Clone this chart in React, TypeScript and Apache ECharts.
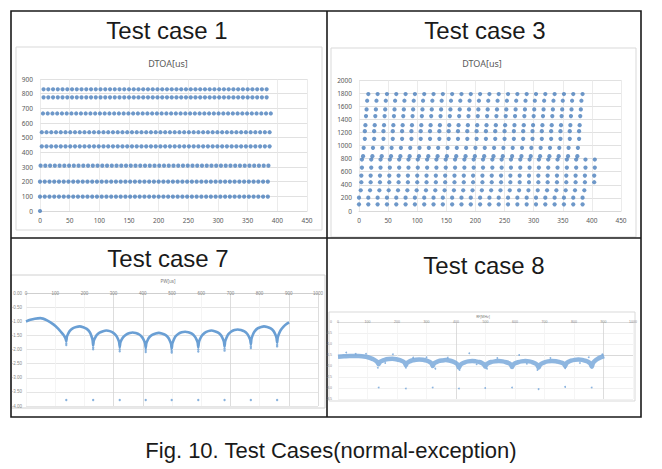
import React, { useEffect, useRef } from "react";
import * as echarts from "echarts";

// ---------- Test case 1 : DTOA levels [level, firstPulse, lastPulse], pulse step 8 ----------
const case1Step = 8;
const case1Rows = [
  [830, 6, 382],
  [775, 6, 382],
  [665, 5, 389],
  [537, 3, 387],
  [441, 3, 387],
  [309, 1, 385],
  [200, 0, 384],
  [98, 0, 384],
];
const case1Extra = [[0, 0]];

// ---------- Test case 3 : DTOA levels [level, firstPulse, lastPulse], pulse step 16 ----------
const case3Step = 16;
const case3Rows = [
  [1786, 16, 384],
  [1684, 14, 382],
  [1551, 13, 381],
  [1449, 12, 380],
  [1311, 11, 379],
  [1219, 10, 378],
  [1102, 10, 378],
  [964, 8, 376],
  [837, 7, 375],
  [786, 5, 405],
  [663, 5, 405],
  [541, 4, 404],
  [439, 4, 404],
  [316, 3, 387],
  [204, 0, 384],
  [102, 0, 384],
];

// ---------- Test case 7 ----------
const case7Curve = [
  [0, -1.01], [15, -0.95], [30, -0.91], [49, -0.89], [72, -0.97], [95, -1.12], [110, -1.26], [120, -1.38], [128, -1.48], [133, -1.56], [136, -1.63], [138, -1.71],
  [140, -1.55], [144, -1.45], [150, -1.34], [160, -1.25], [172, -1.2], [184, -1.18], [196, -1.21], [208, -1.27], [218, -1.38], [224, -1.52], [228, -1.66], [230, -1.86],
  [232, -1.7], [236, -1.6], [242, -1.49], [252, -1.4], [264, -1.35], [275, -1.33], [287, -1.35], [299, -1.41], [309, -1.51], [315, -1.63], [319, -1.74], [321, -1.92],
  [323, -1.76], [327, -1.66], [333, -1.56], [343, -1.47], [355, -1.42], [365, -1.4], [376, -1.42], [388, -1.47], [398, -1.57], [404, -1.68], [408, -1.79], [410, -1.95],
  [412, -1.79], [416, -1.68], [422, -1.57], [432, -1.48], [444, -1.43], [455, -1.41], [465, -1.43], [477, -1.48], [487, -1.58], [493, -1.7], [497, -1.81], [499, -1.98],
  [501, -1.8], [505, -1.68], [511, -1.55], [521, -1.45], [533, -1.39], [545, -1.37], [556, -1.39], [568, -1.44], [578, -1.54], [584, -1.65], [588, -1.76], [590, -1.93],
  [592, -1.75], [596, -1.63], [602, -1.51], [612, -1.41], [624, -1.35], [635, -1.33], [646, -1.35], [658, -1.4], [668, -1.5], [674, -1.62], [678, -1.73], [680, -1.9],
  [682, -1.72], [686, -1.6], [692, -1.47], [702, -1.37], [714, -1.31], [725, -1.29], [736, -1.31], [748, -1.36], [758, -1.45], [764, -1.56], [768, -1.66], [770, -1.82],
  [772, -1.63], [776, -1.5], [782, -1.37], [792, -1.26], [804, -1.21], [815, -1.18], [826, -1.2], [838, -1.25], [848, -1.35], [854, -1.47], [858, -1.59], [860, -1.76],
  [862, -1.58], [866, -1.45], [872, -1.32], [882, -1.19], [892, -1.1], [901, -1.04],
];
const case7Tails = [
  [138, -1.78], [138, -1.84], [230, -1.93], [230, -1.99], [321, -1.99], [321, -2.06],
  [410, -2.02], [410, -2.09], [499, -2.05], [499, -2.11], [590, -2.0], [590, -2.07],
  [680, -1.97], [680, -2.04], [770, -1.89], [770, -1.95], [860, -1.83], [860, -1.89],
];
const case7Low = [
  [138, -3.79], [230, -3.79], [321, -3.79], [410, -3.79], [499, -3.79],
  [590, -3.79], [680, -3.79], [770, -3.79], [860, -3.79],
];

// ---------- Test case 8 ----------
const case8Curve = [
  [0, -1.58], [20, -1.56], [40, -1.54], [70, -1.54], [95, -1.58], [110, -1.64], [122, -1.71], [132, -1.8], [138, -1.92],
  [142, -1.82], [148, -1.77], [158, -1.72], [171, -1.685], [184, -1.67], [197, -1.69], [210, -1.73], [220, -1.79], [226, -1.85], [230, -1.97],
  [234, -1.86], [240, -1.81], [250, -1.75], [263, -1.72], [275, -1.7], [288, -1.72], [301, -1.76], [311, -1.82], [317, -1.88], [321, -2.0],
  [325, -1.89], [331, -1.84], [341, -1.78], [353, -1.75], [365, -1.73], [377, -1.75], [390, -1.8], [400, -1.87], [406, -1.94], [410, -2.08],
  [414, -1.96], [420, -1.89], [430, -1.83], [442, -1.79], [455, -1.77], [467, -1.79], [479, -1.82], [489, -1.87], [495, -1.93], [499, -2.03],
  [503, -1.93], [509, -1.87], [519, -1.82], [532, -1.79], [545, -1.77], [558, -1.79], [570, -1.83], [580, -1.88], [586, -1.94], [590, -2.05],
  [594, -1.94], [600, -1.88], [610, -1.83], [622, -1.79], [635, -1.77], [648, -1.79], [660, -1.83], [670, -1.89], [676, -1.96], [680, -2.08],
  [684, -1.96], [690, -1.89], [700, -1.83], [712, -1.79], [725, -1.77], [738, -1.78], [750, -1.82], [760, -1.86], [766, -1.91], [770, -2.0],
  [774, -1.88], [780, -1.82], [790, -1.76], [802, -1.72], [815, -1.7], [828, -1.72], [840, -1.77], [850, -1.83], [856, -1.9], [860, -2.03],
  [864, -1.88], [870, -1.78], [880, -1.68], [890, -1.61], [902, -1.55],
];
const case8Outliers = [
  [28, -1.39], [186, -1.47], [445, -1.42], [614, -1.5], [896, -1.47], [135, -2.08], [230, -2.08],
  [412, -2.18], [676, -2.18], [330, -2.12], [505, -2.12], [770, -2.1], [60, -1.45], [300, -1.6],
  [95, -1.44], [255, -1.62], [372, -1.62], [540, -1.64], [720, -1.64], [850, -1.6], [160, -1.86],
  [470, -1.92], [640, -1.9], [820, -1.86],
];
const case8Low = [
  [138, -2.98], [230, -3.02], [321, -2.98], [410, -3.02], [499, -3.0],
  [590, -2.98], [680, -3.05], [770, -2.95], [860, -2.98],
];

const caption = "Fig. 10. Test Cases(normal-exception)";
const titles = ["Test case 1", "Test case 3", "Test case 7", "Test case 8"];

function rowsToPoints(rows: number[][], step: number) {
  const pts: number[][] = [];
  rows.forEach(([level, first, last]) => {
    for (let x = first; x <= last; x += step) pts.push([x, level]);
  });
  return pts;
}

const lblColor = "#595959";
const gridGray = "#d9d9d9";
const plain = (v: number) => String(v);

function txt(text: string, x: number, y: number, size: number, color = "#1a1a1a", family = "Liberation Sans") {
  return {
    type: "text",
    x,
    y,
    silent: true,
    style: {
      text,
      fill: color,
      fontSize: size,
      fontFamily: family,
      align: "center",
      verticalAlign: "middle",
      textAlign: "center",
      textVerticalAlign: "middle",
    },
  };
}

export default function App() {
  const ref = useRef<HTMLDivElement>(null);
  useEffect(() => {
    if (!ref.current) return;
    const chart = echarts.init(ref.current, null, { renderer: "svg" });

    const smallAxis = (size: number) => ({ fontSize: size, color: lblColor, fontFamily: "Noto Sans", formatter: plain });

    const x7Split = ["#f1f1f1", "#f1f1f1", "#f1f1f1", "#d4d4d4", "#d4d4d4", "#f1f1f1", "#f1f1f1", "#d4d4d4", "#f1f1f1", "#d4d4d4", "#d4d4d4"];
    const x8Split = ["#f3f3f3", "#f3f3f3", "#f3f3f3", "#f3f3f3", "#d4d4d4", "#f3f3f3", "#f3f3f3", "#f3f3f3", "#f3f3f3", "#d4d4d4", "#f3f3f3"];
    const y8Split = ["#eeeeee", "#eeeeee", "#eeeeee", "#eeeeee", "#cfcfcf", "#eeeeee", "#eeeeee", "#eeeeee"];

    chart.setOption({
      animation: false,
      backgroundColor: "#ffffff",
      grid: [
        { left: 40, top: 79, width: 267, height: 132 },
        { left: 359, top: 80, width: 262, height: 131 },
        { left: 26, top: 293, width: 292, height: 113 },
        { left: 338, top: 322, width: 295, height: 77 },
      ],
      xAxis: [
        {
          type: "value", gridIndex: 0, min: 0, max: 450, interval: 50,
          axisLine: { lineStyle: { color: gridGray } }, axisTick: { show: false },
          axisLabel: { ...smallAxis(6.5), margin: 6 },
          splitLine: { lineStyle: { color: "#e6e6e6", width: 0.8 } },
        },
        {
          type: "value", gridIndex: 1, min: 0, max: 450, interval: 50,
          axisLine: { lineStyle: { color: gridGray } }, axisTick: { show: false },
          axisLabel: { ...smallAxis(6.5), margin: 6 },
          splitLine: { lineStyle: { color: "#e6e6e6", width: 0.8 } },
        },
        {
          type: "value", gridIndex: 2, position: "top", min: 0, max: 1000, interval: 100,
          axisLine: { lineStyle: { color: "#cfcfcf" } }, axisTick: { show: false },
          axisLabel: { fontSize: 4.5, color: "#8a8a8a", margin: 0, verticalAlign: "middle", formatter: plain },
          splitLine: { lineStyle: { color: x7Split, width: 0.8 } },
        },
        {
          type: "value", gridIndex: 3, position: "top", min: 0, max: 1000, interval: 100,
          axisLine: { lineStyle: { color: "#dcdcdc" } }, axisTick: { show: false },
          axisLabel: { fontSize: 3.5, color: "#8a8a8a", margin: 0, verticalAlign: "middle", formatter: plain },
          splitLine: { lineStyle: { color: x8Split, width: 0.8 } },
        },
      ],
      yAxis: [
        {
          type: "value", gridIndex: 0, min: 0, max: 900, interval: 100,
          axisLine: { show: false }, axisTick: { show: false },
          axisLabel: { ...smallAxis(6.5), margin: 7 },
          splitLine: { lineStyle: { color: gridGray, width: 0.8 } },
        },
        {
          type: "value", gridIndex: 1, min: 0, max: 2000, interval: 200,
          axisLine: { show: false }, axisTick: { show: false },
          axisLabel: { ...smallAxis(6.5), margin: 7 },
          splitLine: { lineStyle: { color: gridGray, width: 0.8 } },
        },
        {
          type: "value", gridIndex: 2, min: -4, max: 0, interval: 0.5,
          axisLine: { show: false }, axisTick: { show: false },
          axisLabel: { fontSize: 4.5, color: "#8a8a8a", margin: 4, formatter: (v: number) => v.toFixed(2) },
          splitLine: { lineStyle: { color: "#dedede", width: 0.8 } },
        },
        {
          type: "value", gridIndex: 3, min: -3.5, max: 0, interval: 0.5,
          axisLine: { show: false }, axisTick: { show: false },
          axisLabel: { fontSize: 3.5, color: "#8a8a8a", margin: 6, formatter: (v: number) => (v === 0 ? "0" : v.toFixed(1)) },
          splitLine: { lineStyle: { color: y8Split, width: 0.8 } },
        },
      ],
      series: [
        {
          type: "scatter", xAxisIndex: 0, yAxisIndex: 0, symbolSize: 4.2,
          itemStyle: { color: "#4a7ebb" },
          data: rowsToPoints(case1Rows, case1Step).concat(case1Extra),
        },
        {
          type: "scatter", xAxisIndex: 1, yAxisIndex: 1, symbolSize: 4.2,
          itemStyle: { color: "#4a7ebb" },
          data: rowsToPoints(case3Rows, case3Step),
        },
        {
          type: "line", xAxisIndex: 2, yAxisIndex: 2, showSymbol: false, smooth: 0.25,
          lineStyle: { color: "#6a9fd4", width: 2.6 },
          data: case7Curve,
        },
        {
          type: "scatter", xAxisIndex: 2, yAxisIndex: 2, symbolSize: 2.4,
          itemStyle: { color: "#6a9fd4" },
          data: case7Tails.concat(case7Low),
        },
        {
          type: "line", xAxisIndex: 3, yAxisIndex: 3, showSymbol: false, smooth: 0.25,
          lineStyle: { color: "#7aa9da", width: 4.5, opacity: 0.85 },
          data: case8Curve,
        },
        {
          type: "scatter", xAxisIndex: 3, yAxisIndex: 3, symbolSize: 1.8,
          itemStyle: { color: "#6fa3d8" },
          data: case8Outliers.concat(case8Low),
        },
      ],
      graphic: [
        // chart-area frames
        { type: "rect", shape: { x: 16, y: 47, width: 306, height: 183 }, style: { fill: "none", stroke: "#d9d9d9", lineWidth: 1 }, silent: true },
        { type: "rect", shape: { x: 331, y: 48, width: 305, height: 189 }, style: { fill: "none", stroke: "#d9d9d9", lineWidth: 1 }, silent: true },
        { type: "rect", shape: { x: 11, y: 275, width: 314, height: 133 }, style: { fill: "none", stroke: "#d0d0d0", lineWidth: 1 }, silent: true },
        { type: "rect", shape: { x: 329, y: 312, width: 306, height: 89 }, style: { fill: "none", stroke: "#d9d9d9", lineWidth: 1 }, silent: true },
        // table borders
        { type: "rect", shape: { x: 11, y: 11, width: 630, height: 406 }, style: { fill: "none", stroke: "#1a1a1a", lineWidth: 1.6 }, silent: true },
        { type: "line", shape: { x1: 327, y1: 11, x2: 327, y2: 417 }, style: { stroke: "#1a1a1a", lineWidth: 1.6 }, silent: true },
        { type: "line", shape: { x1: 11, y1: 238, x2: 641, y2: 238 }, style: { stroke: "#1a1a1a", lineWidth: 1.6 }, silent: true },
        // panel titles
        txt(titles[0], 167, 30, 24),
        txt(titles[1], 485, 30, 24),
        txt(titles[2], 168, 258, 24),
        txt(titles[3], 484, 265, 24),
        // chart titles
        txt("DTOA[us]", 168, 63, 9, lblColor, "Noto Sans"),
        txt("DTOA[us]", 482, 63, 9, lblColor, "Noto Sans"),
        txt("PW[us]", 168, 281, 4.5, "#777", "Noto Sans"),
        txt("RF[MHz]", 483, 316, 3.5, "#777", "Noto Sans"),
        // caption
        txt(caption, 331, 450, 22),
      ],
    });
    return () => chart.dispose();
  }, []);

  return (
    <div
      ref={ref}
      style={{ position: "fixed", left: 0, top: 0, width: 662, height: 469, background: "#fff" }}
    />
  );
}
